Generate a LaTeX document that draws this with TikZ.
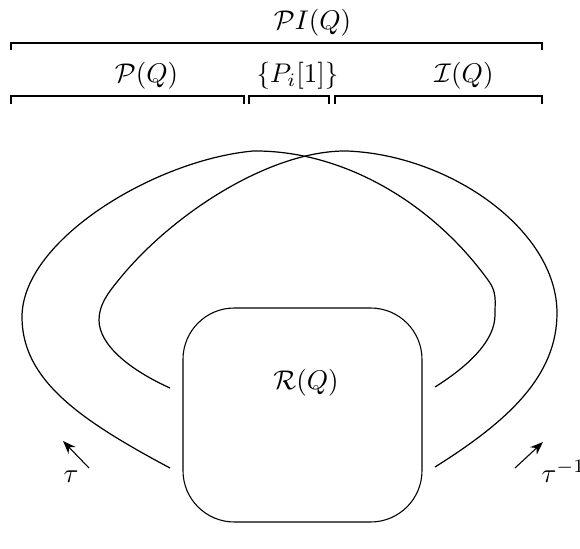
\documentclass[tikz,border=0pt]{standalone}
\usepackage{amsmath}
\usetikzlibrary{arrows.meta}

\begin{document}
\begin{tikzpicture}[x=0.37pt, y=-0.37pt, >=Stealth,
  brace/.style={line cap=butt},
  orbit/.style={line width=0.45pt},
  lbl/.style={anchor=base, inner sep=0pt}]

\useasboundingbox (0,0) rectangle (580,549);

% --- Brackets on top ---
\node[lbl] (pi) at (312.5,29.5) {$\mathcal{P}I(Q)$};
\draw[brace] (11,50) -- (11,43) -- (542,43) -- (542,50);

\node[lbl] (proj) at (146.5,82) {$\mathcal{P}(Q)$};
\node[lbl] (shift) at (297.5,82) {$\{P_i[1]\}$};
\node[lbl] (inj) at (464,82) {$\mathcal{I}(Q)$};
\draw[brace] (11,104) -- (11,96) -- (244,96) -- (244,104);
\draw[brace] (249,104) -- (249,96) -- (329,96) -- (329,104);
\draw[brace] (335,104) -- (335,96) -- (542,96) -- (542,104);

% --- Regular component ---
\draw[rounded corners=19pt] (183,308) rectangle (422,522);
\node[lbl] (reg) at (306,389) {$\mathcal{R}(Q)$};

% --- The two loops ---
\draw[orbit] (170,468) .. controls (80,420) and (22,380) .. (22,317)
  .. controls (22,240) and (155,160) .. (253,151)
  .. controls (340,150) and (430,200) .. (488,280)
  .. controls (497,292) and (495,300) .. (495,315)
  .. controls (495,340) and (470,365) .. (435,387);
\draw[orbit] (435,467) .. controls (510,420) and (557,375) .. (557,313)
  .. controls (557,230) and (450,155) .. (347,151)
  .. controls (270,150) and (170,215) .. (117,282)
  .. controls (108,293) and (99,305) .. (99,320)
  .. controls (99,345) and (130,370) .. (170,388);

% --- Translations ---
\coordinate (tl) at (89,468);
\coordinate (hl) at (63,441);
\coordinate (tr) at (515,468);
\coordinate (hr) at (543,442);
\draw[->] (tl) -- (hl);
\draw[->] (tr) -- (hr);
\node[lbl] (tau) at (71,482) {$\tau$};
\node[lbl, anchor=base west] (tauinv) at (541,482) {$\tau^{-1}$};

\end{tikzpicture}
\end{document}
